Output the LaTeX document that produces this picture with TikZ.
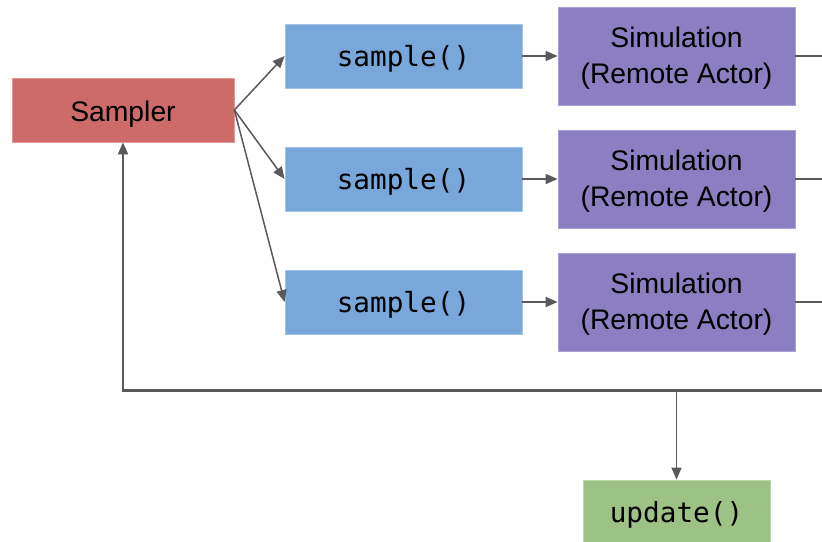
\documentclass[tikz,border=0pt]{standalone}
\usepackage{fontspec}
\setmainfont{Liberation Sans}
\newfontfamily\codefont{DejaVu Sans Mono}
\usetikzlibrary{arrows.meta}

\definecolor{samplerred}{HTML}{CD6B68}
\definecolor{samplerline}{HTML}{E59A97}
\definecolor{sampleblue}{HTML}{79A7DA}
\definecolor{sampleline}{HTML}{A3C4E8}
\definecolor{simpurple}{HTML}{8B7EC1}
\definecolor{simline}{HTML}{A99FD3}
\definecolor{updgreen}{HTML}{9DC285}
\definecolor{updline}{HTML}{BBD7A8}
\definecolor{wire}{HTML}{595959}

\tikzset{
  box/.style={rectangle, inner sep=0pt, line width=0.8pt, text depth=0pt},
  samplerbox/.style={box, fill=samplerred, draw=samplerline, text height=23.4pt,
    minimum width=222pt, minimum height=64pt, font=\fontsize{28.3}{34}\selectfont},
  callbox/.style={box, fill=sampleblue, draw=sampleline, text height=21pt,
    minimum width=237pt, minimum height=64pt, font=\codefont\fontsize{27.7}{32}\selectfont},
  simbox/.style={box, fill=simpurple, draw=simline,
    minimum width=237pt, minimum height=98pt},
  simtext/.style={inner sep=0pt, anchor=base, font=\fontsize{28.3}{34}\selectfont},
  updbox/.style={box, fill=updgreen, draw=updline, text height=21pt,
    minimum width=187pt, minimum height=64pt, font=\codefont\fontsize{27.7}{32}\selectfont},
  link/.style={draw=wire, line width=1.5pt},
  arrow/.style={link, -{Triangle[length=12pt,width=10pt]}},
  bus/.style={draw=wire, line width=3pt},
}

\begin{document}
\begin{tikzpicture}[x=1pt,y=-1pt]
  \useasboundingbox (0,0) rectangle (822,541);
  \clip (0,0) rectangle (822,541);

  % source
  \node[samplerbox] (sampler) at (123,110) {Sampler};

  % three sample() calls
  \node[callbox] (s1) at (403.5,56)  {sample()};
  \node[callbox] (s2) at (403.5,179) {sample()};
  \node[callbox] (s3) at (403.5,302) {sample()};

  % remote simulations, two text lines each
  \foreach \i/\y in {1/56, 2/179, 3/302} {
    \node[simbox] (m\i) at (676.5,\y) {};
    \node[simtext] (m\i a) at ([yshift=9pt]m\i.center) {Simulation};
    \node[simtext] (m\i b) at ([yshift=-27pt]m\i.center) {(Remote Actor)};
  }

  % update step
  \node[updbox] (upd) at (676.5,512) {update()};

  % fan-out from the sampler
  \draw[arrow] (sampler.east) -- (s1.west);
  \draw[arrow] (sampler.east) -- (s2.west);
  \draw[arrow] (sampler.east) -- (s3.west);

  % each call feeds its simulation
  \draw[arrow] (s1) -- (m1);
  \draw[arrow] (s2) -- (m2);
  \draw[arrow] (s3) -- (m3);

  % results leave to the right
  \coordinate (o1) at (822,56);
  \coordinate (o2) at (822,179);
  \coordinate (o3) at (822,302);
  \draw[link] (m1.east) -- (o1);
  \draw[link] (m2.east) -- (o2);
  \draw[link] (m3.east) -- (o3);

  % collecting bus, feedback to the sampler and branch to update()
  \coordinate (busL) at (123,390);
  \coordinate (busR) at (822,390);
  \coordinate (busU) at (676.5,390);
  \draw[bus] ([xshift=-1.5pt]busL) -- (busR);
  \draw[draw=wire, line width=2pt, -{Triangle[length=12pt,width=10pt]}] (busL) -- (sampler.south);
  \draw[arrow] (busU) -- (upd.north);
\end{tikzpicture}
\end{document}
